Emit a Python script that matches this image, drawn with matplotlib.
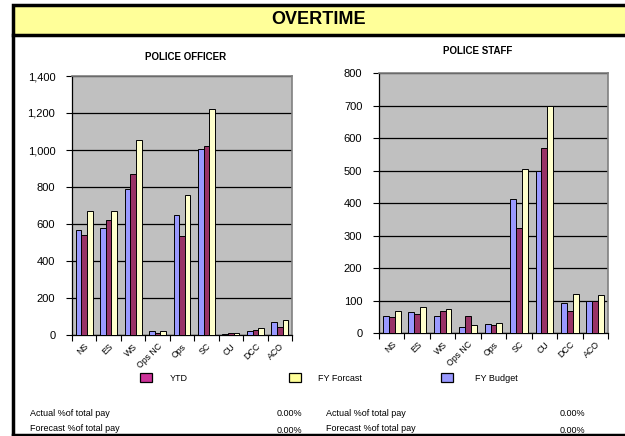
import matplotlib
matplotlib.use("Agg")
import matplotlib.pyplot as plt
import numpy as np
from matplotlib.patches import Rectangle
from matplotlib.lines import Line2D
from matplotlib.ticker import FuncFormatter, FixedLocator

plt.rcParams['font.family'] = ['Liberation Sans', 'DejaVu Sans']

categories = ["NS", "ES", "WS", "Ops NC", "Ops", "SC", "CU", "DCC", "ACO"]

officer_budget = [565, 580, 787, 23, 647, 1004, 4, 23, 72]
officer_ytd = [542, 623, 869, 11, 536, 1022, 11, 29, 45]
officer_forecast = [670, 670, 1053, 23, 757, 1219, 11, 38, 79]

staff_budget = [52, 64, 52, 17, 28, 413, 497, 91, 100]
staff_ytd = [49, 59, 67, 52, 25, 322, 570, 68, 100]
staff_forecast = [67, 81, 74, 25, 31, 505, 700, 119, 117]

series_names = ["FY Budget", "YTD", "FY Forcast"]
legend_order = ["YTD", "FY Forcast", "FY Budget"]
colors = {"FY Budget": "#9999FF", "YTD": "#993366", "FY Forcast": "#FFFFCC"}
legend_colors = {"FY Budget": "#9999FF", "YTD": "#CC3399", "FY Forcast": "#FFFF99"}

footer_labels = ["Actual %of total pay", "Forecast %of total pay"]
officer_pct = ["0.00%", "0.00%"]
staff_pct = ["0.00%", "0.00%"]

W, H = 625, 436
fig = plt.figure(figsize=(W / 100, H / 100), dpi=100)


def fx(px):
    return px / W


def fy(py):
    return 1 - py / H


# frame + title band
fig.patches.append(Rectangle((fx(13), fy(35)), fx(W + 20 - 13), fy(5) - fy(35),
                             transform=fig.transFigure, facecolor="#FFFF99",
                             edgecolor="black", linewidth=2.5, zorder=0))
fig.lines.append(Line2D([fx(13), fx(13)], [fy(35), fy(435)], transform=fig.transFigure,
                        color="black", linewidth=2.5))
fig.lines.append(Line2D([fx(13), fx(W + 5)], [fy(435), fy(435)], transform=fig.transFigure,
                        color="black", linewidth=2.5))
fig.text(fx(319), fy(20), "OVERTIME", ha="center", va="center", fontsize=13,
         fontweight="bold")


def draw(ax, budget, ytd, forecast, ymax, step, title, tx, ty):
    x = np.arange(len(categories))
    w = 0.23
    data = {"FY Budget": budget, "YTD": ytd, "FY Forcast": forecast}
    for i, name in enumerate(series_names):
        ax.bar(x + (i - 1) * w, data[name], width=w, color=colors[name],
               edgecolor="black", linewidth=0.7, zorder=3)
    ax.set_facecolor("#C0C0C0")
    ax.set_xlim(-0.5, len(categories) - 0.5)
    ax.set_ylim(0, ymax)
    ax.yaxis.set_major_locator(FixedLocator(np.arange(0, ymax + 1, step)))
    ax.yaxis.set_major_formatter(FuncFormatter(lambda v, p: f"{int(v):,}"))
    ax.grid(axis="y", color="black", linewidth=0.9, zorder=1)
    ax.set_axisbelow(True)
    ax.tick_params(axis="y", labelsize=8, length=4, width=0.8, direction="out", pad=8)
    ax.set_xticks(np.arange(-0.5, len(categories), 1.0))
    ax.set_xticklabels([])
    ax.set_xticks(x, minor=True)
    ax.set_xticklabels(categories, minor=True, rotation=45, ha="right",
                       rotation_mode="anchor", fontsize=6.3)
    ax.tick_params(axis="x", which="major", length=4, width=0.8, direction="out")
    ax.tick_params(axis="x", which="minor", length=0, pad=5)
    for s in ("top", "right"):
        ax.spines[s].set_color("#808080")
        ax.spines[s].set_linewidth(1.2)
    for s in ("left", "bottom"):
        ax.spines[s].set_color("black")
        ax.spines[s].set_linewidth(0.9)
    fig.text(fx(tx), fy(ty), title, ha="center", va="center", fontsize=7,
             fontweight="bold")


ax1 = fig.add_axes([fx(72), fy(335), fx(292 - 72), (335 - 76) / H])
draw(ax1, officer_budget, officer_ytd, officer_forecast, 1400, 200,
     "POLICE OFFICER", 186, 57)
ax2 = fig.add_axes([fx(379), fy(333), fx(608 - 379), (333 - 73) / H])
draw(ax2, staff_budget, staff_ytd, staff_forecast, 800, 100,
     "POLICE STAFF", 478, 51)

# legend
leg_pos = {"YTD": (140, 170), "FY Forcast": (289, 318), "FY Budget": (441, 475)}
for name in legend_order:
    mx, tx = leg_pos[name]
    fig.patches.append(Rectangle((fx(mx), fy(382)), fx(12), fy(373) - fy(382),
                                 transform=fig.transFigure, facecolor=legend_colors[name],
                                 edgecolor="black", linewidth=0.9))
    fig.text(fx(tx), fy(378), name, ha="left", va="center", fontsize=6.5)

# footer
rows_y = [413, 428]
for i, lab in enumerate(footer_labels):
    fig.text(fx(30), fy(rows_y[i]), lab, ha="left", va="center", fontsize=6.5)
    fig.text(fx(326), fy(rows_y[i]), lab, ha="left", va="center", fontsize=6.5)
    fig.text(fx(302), fy(rows_y[i] + (2 if i == 1 else 0)), officer_pct[i],
             ha="right", va="center", fontsize=6.5)
    fig.text(fx(585), fy(rows_y[i] + (2 if i == 1 else 0)), staff_pct[i],
             ha="right", va="center", fontsize=6.5)

fig.savefig("out.png", dpi=100)
